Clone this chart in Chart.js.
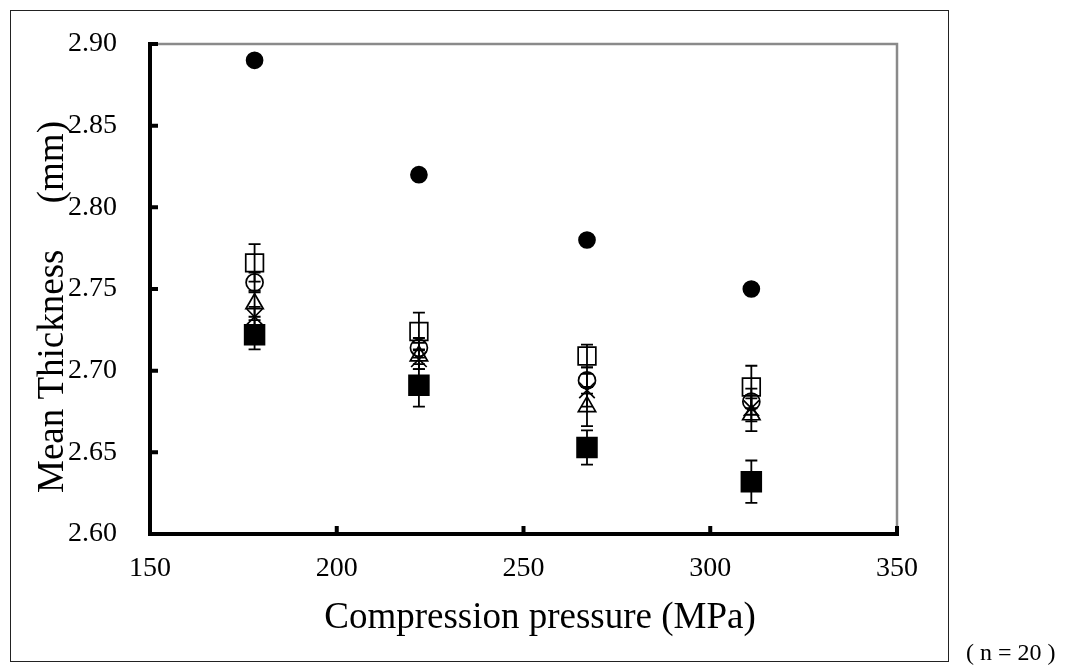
<!DOCTYPE html>
<html>
<head>
<meta charset="utf-8">
<script src="https://cdn.jsdelivr.net/npm/chart.js@4/dist/chart.umd.min.js"></script>
<style>
  html, body { margin: 0; padding: 0; background: #fff; }
  #wrap { position: relative; width: 1069px; height: 668px; }
  #frame { position: absolute; left: 10px; top: 10px; width: 937px; height: 650px; border: 1px solid #222; }
  #n { position: absolute; left: 966px; top: 639px; font: 24px "Liberation Serif", serif; color: #000; white-space: pre; }
  canvas { position: absolute; left: 0; top: 0; }
</style>
</head>
<body>
<div id="wrap">
  <div id="frame"></div>
  <canvas id="thicknessChart" width="1069" height="668"></canvas>
  <div id="n">( n = 20 )</div>
</div>
<script>
// data
const pressures = [178, 222, 267, 311];
const yTicks = [2.60, 2.65, 2.70, 2.75, 2.80, 2.85, 2.90];
const xTicks = [150, 200, 250, 300, 350];

const filledCircle = [2.890, 2.820, 2.780, 2.750];
const openSquare = [2.766, 2.724, 2.709, 2.690];
const openSquareErr = [0.0115, 0.0115, 0.007, 0.013];
const openCircle = [2.754, 2.714, 2.694, 2.681];
const openCircleErr = [0.006, 0.006, 0.008, 0.008];
const crossMark = [2.733, 2.707, 2.688, 2.677];
const crossMarkErr = [0.006, 0.006, 0.010, 0.008];
const triangle = [2.741, 2.709, 2.678, 2.673];
const triangleErr = [0.008, 0.008, 0.012, 0.010];
const filledSquare = [2.722, 2.691, 2.653, 2.632];
const filledSquareErr = [0.009, 0.013, 0.0105, 0.013];

const serif = '"Liberation Serif", "Times New Roman", serif';

function toPoints(ys, errs) {
  return pressures.map((x, i) => ({ x, y: ys[i], err: errs ? errs[i] : 0 }));
}

function series(label, ys, errs, style, radius, filled) {
  return {
    label,
    data: toPoints(ys, errs),
    pointStyle: style,
    pointRadius: radius,
    pointHoverRadius: radius,
    pointBorderWidth: 1.7,
    pointBorderColor: '#000',
    pointBackgroundColor: filled ? '#000' : 'rgba(255,255,255,0)',
    showLine: false
  };
}

// error bars + axes frame, drawn through the scales
const frameAndErrors = {
  id: 'frameAndErrors',
  beforeDatasetsDraw(chart) {
    const { ctx, scales: { x, y } } = chart;
    ctx.save();
    ctx.strokeStyle = '#000';
    ctx.lineWidth = 1.8;
    chart.data.datasets.forEach(ds => {
      ds.data.forEach(p => {
        if (!p.err) return;
        const px = x.getPixelForValue(p.x);
        const top = y.getPixelForValue(p.y + p.err);
        const bot = y.getPixelForValue(p.y - p.err);
        ctx.beginPath();
        ctx.moveTo(px, top); ctx.lineTo(px, bot);
        ctx.moveTo(px - 6, top); ctx.lineTo(px + 6, top);
        ctx.moveTo(px - 6, bot); ctx.lineTo(px + 6, bot);
        ctx.stroke();
      });
    });
    ctx.restore();
  },
  afterDraw(chart) {
    const { ctx, chartArea: a, scales: { x, y } } = chart;
    ctx.save();
    // top and right edges
    ctx.strokeStyle = '#8a8a8a';
    ctx.lineWidth = 2.5;
    ctx.beginPath();
    ctx.moveTo(a.left, a.top); ctx.lineTo(a.right, a.top); ctx.lineTo(a.right, a.bottom);
    ctx.stroke();
    // left and bottom axes
    ctx.strokeStyle = '#000';
    ctx.lineWidth = 4;
    ctx.lineCap = 'square';
    ctx.beginPath();
    ctx.moveTo(a.left, a.top); ctx.lineTo(a.left, a.bottom); ctx.lineTo(a.right, a.bottom);
    ctx.stroke();
    // inward ticks
    ctx.lineCap = 'butt';
    ctx.beginPath();
    yTicks.forEach(v => {
      const py = y.getPixelForValue(v);
      ctx.moveTo(a.left, py); ctx.lineTo(a.left + 8, py);
    });
    xTicks.forEach(v => {
      const px = x.getPixelForValue(v);
      ctx.moveTo(px, a.bottom); ctx.lineTo(px, a.bottom - 8);
    });
    ctx.stroke();
    // axis titles
    ctx.fillStyle = '#000';
    ctx.font = '37px ' + serif;
    ctx.textAlign = 'center';
    ctx.textBaseline = 'alphabetic';
    ctx.fillText('Compression pressure (MPa)', 540, 628);
    ctx.translate(63, 493);
    ctx.rotate(-Math.PI / 2);
    ctx.textAlign = 'left';
    ctx.fillText('Mean Thickness     (mm)', 0, 0);
    ctx.restore();
  }
};

const ctx = document.getElementById('thicknessChart');
new Chart(ctx, {
  type: 'scatter',
  data: {
    datasets: [
      series('filled circle', filledCircle, null, 'circle', 8, true),
      series('open square', openSquare, openSquareErr, 'rect', 12.5, false),
      series('open circle', openCircle, openCircleErr, 'circle', 8.5, false),
      series('cross', crossMark, crossMarkErr, 'crossRot', 11, false),
      series('triangle', triangle, triangleErr, 'triangle', 10, false),
      series('filled square', filledSquare, filledSquareErr, 'rect', 14, true)
    ]
  },
  options: {
    responsive: false,
    animation: false,
    layout: { padding: { left: 0, top: 44, right: 172, bottom: 0 } },
    plugins: { legend: { display: false }, tooltip: { enabled: false } },
    scales: {
      x: {
        type: 'linear',
        min: 150, max: 350,
        grid: { display: false, drawTicks: false },
        border: { display: false },
        afterFit: s => { s.height = 134; },
        afterBuildTicks: s => { s.ticks = xTicks.map(v => ({ value: v })); },
        ticks: { color: '#000', padding: 18, font: { family: serif, size: 28 }, maxRotation: 0 }
      },
      y: {
        type: 'linear',
        min: 2.60, max: 2.90,
        grid: { display: false, drawTicks: false },
        border: { display: false },
        afterFit: s => { s.width = 150; s.paddingTop = 0; s.paddingBottom = 0; },
        afterBuildTicks: s => { s.ticks = yTicks.map(v => ({ value: v })); },
        ticks: { color: '#000', padding: 33, font: { family: serif, size: 28 }, callback: v => v.toFixed(2) }
      }
    }
  },
  plugins: [frameAndErrors]
});
</script>
</body>
</html>
